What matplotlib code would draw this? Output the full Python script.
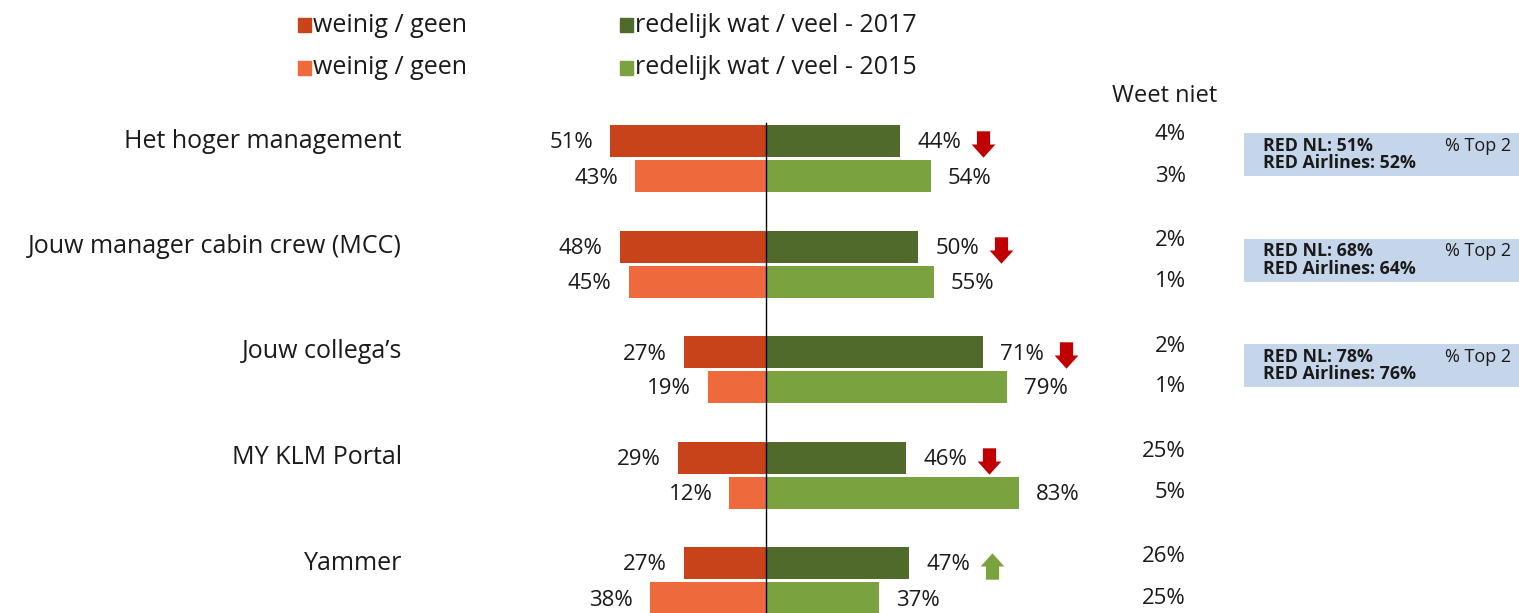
import numpy as np
import matplotlib.pyplot as plt
from matplotlib.patches import Rectangle
from matplotlib.path import Path

plt.rcParams['font.family'] = ['Open Sans', 'DejaVu Sans']

categories = ['Het hoger management', 'Jouw manager cabin crew (MCC)',
              'Jouw collega\u2019s', 'MY KLM Portal', 'Yammer']
weinig_2017 = [51, 48, 27, 29, 27]
weinig_2015 = [43, 45, 19, 12, 38]
redelijk_2017 = [44, 50, 71, 46, 47]
redelijk_2015 = [54, 55, 79, 83, 37]
weet_niet_2017 = [4, 2, 2, 25, 26]
weet_niet_2015 = [3, 1, 1, 5, 25]
trend = ['down', 'down', 'down', 'down', 'up']
benchmark_nl = [51, 68, 78]
benchmark_airlines = [52, 64, 76]

c_w17, c_w15 = '#C8431A', '#EE693B'
c_r17, c_r15 = '#4F6A2B', '#7AA23F'
txt = '#1a1a1a'

W, H = 1519, 613
fig = plt.figure(figsize=(W / 100, H / 100), dpi=100)
ax = fig.add_axes([0, 0, 1, 1])
ppu = 3.05            # pixels per percent
x0 = 766              # zero line in px
ax.set_xlim(-x0 / ppu, (W - x0) / ppu)
row_px = 105.5
ax.set_ylim((H - 141) / row_px, -141 / row_px)
ax.axis('off')

y17 = np.arange(len(categories))
y15 = y17 + 35 / row_px
bh = 32 / row_px

ax.barh(y17, [-v for v in weinig_2017], height=bh, color=c_w17)
ax.barh(y15, [-v for v in weinig_2015], height=bh, color=c_w15)
ax.barh(y17, redelijk_2017, height=bh, color=c_r17)
ax.barh(y15, redelijk_2015, height=bh, color=c_r15)
ax.plot([0, 0], [-18 / row_px, (H - 141) / row_px], color='black', lw=1)

fs = 16      # percentages
fs_cat = 18  # categories / legend
gap = 17 / ppu
for i, cat in enumerate(categories):
    ax.text(-(x0 - 402) / ppu, y17[i], cat, ha='right', va='center', fontsize=fs_cat, color=txt)
    ax.text(-weinig_2017[i] - gap, y17[i] + 2 / row_px, f'{weinig_2017[i]}%', ha='right', va='center', fontsize=fs, color=txt)
    ax.text(-weinig_2015[i] - gap, y15[i] + 2 / row_px, f'{weinig_2015[i]}%', ha='right', va='center', fontsize=fs, color=txt)
    ax.text(redelijk_2017[i] + gap, y17[i] + 2 / row_px, f'{redelijk_2017[i]}%', ha='left', va='center', fontsize=fs, color=txt)
    ax.text(redelijk_2015[i] + gap, y15[i] + 2 / row_px, f'{redelijk_2015[i]}%', ha='left', va='center', fontsize=fs, color=txt)
    ax.text((1186 - x0) / ppu, y17[i] - 6 / row_px, f'{weet_niet_2017[i]}%', ha='right', va='center', fontsize=fs, color=txt)
    ax.text((1186 - x0) / ppu, y15[i], f'{weet_niet_2015[i]}%', ha='right', va='center', fontsize=fs, color=txt)

# trend arrows
down = Path([(-0.25, 0.5), (0.25, 0.5), (0.25, 0.0), (0.45, 0.0), (0, -0.5),
             (-0.45, 0.0), (-0.25, 0.0), (-0.25, 0.5)], closed=True)
up = Path([(x, -y) for x, y in down.vertices], closed=True)
for i, t in enumerate(trend):
    ax.plot(redelijk_2017[i] + 83 / ppu, y17[i] + 3 / row_px, marker=down if t == 'down' else up,
            markersize=19, color='#C00000' if t == 'down' else c_r15, mec='none')

ax.text((1165 - x0) / ppu, (96 - 141) / row_px, 'Weet niet', ha='center', va='center', fontsize=17, color=txt)

# benchmark boxes
for i in range(len(benchmark_nl)):
    top = y17[i] - 8 / row_px
    ax.add_patch(Rectangle(((1244 - x0) / ppu, top), (W - 1244) / ppu, 43 / row_px,
                           color='#C5D5EA', lw=0, clip_on=False))
    ax.text((1263 - x0) / ppu, top + 13 / row_px, f'RED NL: {benchmark_nl[i]}%', ha='left', va='center',
            fontsize=12.8, fontweight='bold', color=txt)
    ax.text((1263 - x0) / ppu, top + 30 / row_px, f'RED Airlines: {benchmark_airlines[i]}%', ha='left', va='center',
            fontsize=12.8, fontweight='bold', color=txt)
    ax.text((1511 - x0) / ppu, top + 13 / row_px, '% Top 2', ha='right', va='center', fontsize=13, color=txt)

# legend
leg = [(298, 25, c_w17, 'weinig / geen'), (298, 68, c_w15, 'weinig / geen'),
       (620, 25, c_r17, 'redelijk wat / veel - 2017'), (620, 68, c_r15, 'redelijk wat / veel - 2015')]
for px, py, col, lab in leg:
    fig.patches.append(Rectangle((px / W, 1 - (py + 7) / H), 13 / W, 14 / H, color=col,
                                 transform=fig.transFigure, figure=fig))
    fig.text((px + 15) / W, 1 - py / H, lab, ha='left', va='center', fontsize=fs_cat, color=txt)

fig.savefig('out.png', dpi=100)
